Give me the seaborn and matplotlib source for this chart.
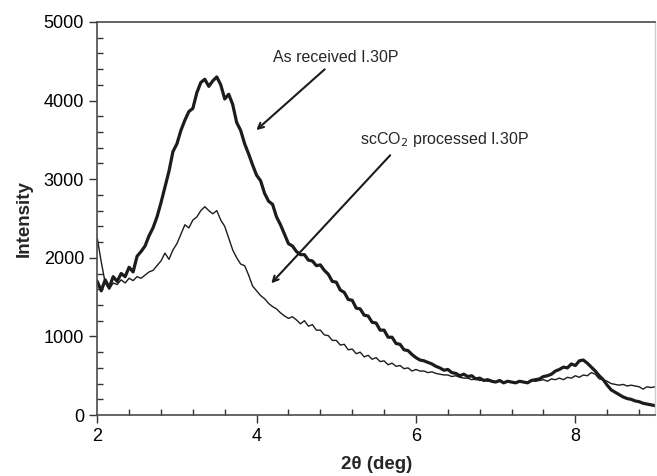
import numpy as np
import pandas as pd
import matplotlib
matplotlib.use("Agg")
import matplotlib.pyplot as plt
from matplotlib.ticker import MultipleLocator
import seaborn as sns

# 2-theta scan grid (deg), step 0.05
two_theta = np.linspace(2.0, 9.0, 141)

# As received I.30P (thick curve)
as_received = [
    1700, 1580, 1720, 1620, 1760, 1700, 1800, 1760, 1880, 1820,
    2020, 2080, 2150, 2280, 2380, 2520, 2700, 2900, 3100, 3350,
    3450, 3620, 3750, 3860, 3900, 4100, 4230, 4270, 4180, 4250,
    4300, 4200, 4020, 4080, 3950, 3720, 3620, 3450, 3320, 3180,
    3050, 2980, 2820, 2720, 2680, 2520, 2420, 2300, 2180, 2150,
    2080, 2040, 2040, 1970, 1960, 1900, 1910, 1840, 1790, 1700,
    1690, 1590, 1560, 1470, 1460, 1360, 1350, 1270, 1260, 1180,
    1170, 1080, 1080, 990, 990, 910, 900, 830, 820, 770,
    730, 700, 690, 670, 650, 620, 600, 570, 580, 540,
    530, 500, 520, 490, 500, 460, 470, 440, 450, 430,
    420, 440, 410, 430, 420, 410, 430, 420, 410, 440,
    450, 460, 490, 500, 520, 560, 580, 610, 600, 650,
    630, 690, 700, 660, 610, 560, 500, 450, 380, 320,
    290, 260, 230, 210, 200, 180, 170, 150, 140, 130,
    120,
]

# scCO2 processed I.30P (thin curve)
sc_processed = [
    2250, 1950, 1680, 1600, 1680, 1660, 1720, 1680, 1740, 1710,
    1760, 1740, 1780, 1820, 1840, 1900, 1960, 2060, 1980, 2100,
    2180, 2300, 2420, 2380, 2480, 2520, 2600, 2650, 2600, 2560,
    2600, 2480, 2400, 2250, 2100, 2000, 1920, 1900, 1780, 1640,
    1580, 1520, 1480, 1420, 1380, 1350, 1300, 1260, 1230, 1250,
    1210, 1160, 1200, 1130, 1150, 1080, 1080, 1020, 1010, 950,
    950, 890, 900, 830, 840, 780, 800, 740, 760, 710,
    730, 680, 690, 640, 660, 620, 630, 590, 600, 560,
    580, 560, 560, 540, 550, 530, 520, 510, 510, 490,
    500, 480, 470, 470, 450, 460, 440, 450, 430, 440,
    420, 430, 410, 420, 420, 410, 430, 420, 420, 440,
    430, 440, 450, 430, 460, 450, 470, 450, 480, 470,
    500, 480, 510, 500, 540, 520, 460, 450, 430, 400,
    390, 380, 390, 370, 380, 370, 360, 330, 360, 350,
    360,
]

sns.set_style("ticks")
plt.rcParams["font.family"] = ["Liberation Sans", "DejaVu Sans"]

fig = plt.figure(figsize=(6.57, 4.76), dpi=100)
ax = fig.add_axes([0.148, 0.128, 0.849, 0.826])

line_col = "#1c1c1c"
sns.lineplot(x=two_theta, y=sc_processed, ax=ax, color=line_col, linewidth=1.0)
sns.lineplot(x=two_theta, y=as_received, ax=ax, color=line_col, linewidth=2.3)

ax.set_xlim(2, 9)
ax.set_ylim(0, 5000)
ax.xaxis.set_major_locator(MultipleLocator(2))
ax.xaxis.set_minor_locator(MultipleLocator(0.4))
ax.yaxis.set_major_locator(MultipleLocator(1000))
ax.yaxis.set_minor_locator(MultipleLocator(200))
ax.tick_params(which="major", direction="out", length=6, width=1, labelsize=13,
               colors="#333333", labelcolor="black")
ax.tick_params(which="minor", direction="in", length=4, width=1, colors="#333333")

for side in ["left", "bottom", "top"]:
    ax.spines[side].set_color("#4a4a4a")
    ax.spines[side].set_linewidth(1.2)
ax.spines["right"].set_color("#cccccc")
ax.spines["right"].set_linewidth(1.0)

ax.set_xlabel("2θ (deg)", fontsize=13.5, fontweight="bold", labelpad=8)
ax.set_ylabel("Intensity", fontsize=13.5, fontweight="bold", labelpad=8)

ax.annotate("As received I.30P", xy=(3.97, 3600), xytext=(4.2, 4550),
            fontsize=11.5, ha="left", va="center")
ax.annotate("", xy=(3.97, 3600), xytext=(4.88, 4420),
            arrowprops=dict(arrowstyle="->", color=line_col, lw=1.5))
ax.annotate("scCO$_2$ processed I.30P", xy=(4.16, 1650), xytext=(5.3, 3500),
            fontsize=11.5, ha="left", va="center")
ax.annotate("", xy=(4.16, 1650), xytext=(5.7, 3330),
            arrowprops=dict(arrowstyle="->", color=line_col, lw=1.5))

fig.savefig("out.png", dpi=100)
